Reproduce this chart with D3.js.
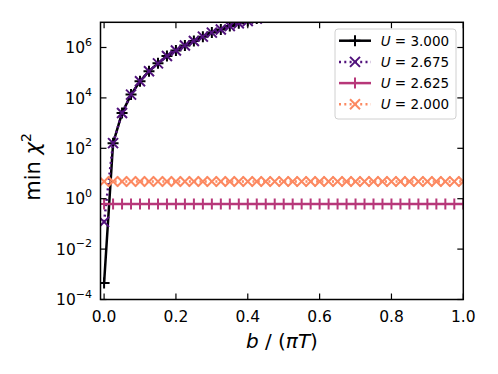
<!DOCTYPE html>
<html><head><meta charset="utf-8">
<script src="https://cdn.jsdelivr.net/npm/d3@7"></script>
<style>body{margin:0;background:#fff}svg{display:block;font-family:"DejaVu Sans",sans-serif}</style>
</head><body><svg id="c" width="498" height="374"></svg>
<script>
const xs = [0,0.025,0.05,0.075,0.1,0.125,0.15,0.175,0.2,0.225,0.25,0.275,0.3,0.325,0.35,0.375,0.4,0.425,0.45,0.475,0.5,0.525,0.55,0.575,0.6,0.625,0.65,0.675,0.7,0.725,0.75,0.775,0.8,0.825,0.85,0.875,0.9,0.925,0.95,0.975,1.0];
const u3000 = [4.5e-4,1.6e2,2.5e3,1.35e4,4.6e4,1.15e5,2.35e5,4.6e5,7.6e5,1.2e6,1.8e6,2.7e6,3.9e6,5.2e6,7.1e6,9.1e6,1.12e7,1.4e7,1.8e7];
const u2675 = [0.12,1.6e2,2.5e3,1.35e4,4.6e4,1.15e5,2.35e5,4.6e5,7.6e5,1.2e6,1.8e6,2.7e6,3.9e6,5.2e6,7.1e6,9.1e6,1.12e7,1.4e7,1.8e7];
const u2625 = [0.61,0.61,0.61,0.61,0.61,0.61,0.61,0.61,0.61,0.61,0.61,0.61,0.61,0.61,0.61,0.61,0.61,0.61,0.61,0.61,0.61,0.61,0.61,0.61,0.61,0.61,0.61,0.61,0.61,0.61,0.61,0.61,0.61,0.61,0.61,0.61,0.61,0.61,0.61,0.61,0.61];
const u2000 = [4.8,4.8,4.8,4.8,4.8,4.8,4.8,4.8,4.8,4.8,4.8,4.8,4.8,4.8,4.8,4.8,4.8,4.8,4.8,4.8,4.8,4.8,4.8,4.8,4.8,4.8,4.8,4.8,4.8,4.8,4.8,4.8,4.8,4.8,4.8,4.8,4.8,4.8,4.8,4.8,4.8];
const seriesLabels = ["3.000","2.675","2.625","2.000"];
const xTicks = [0,0.2,0.4,0.6,0.8,1.0];
const yTickExps = [-4,-2,0,2,4,6];

const series = [
  {label:seriesLabels[0], vals:u3000, color:"#000004", dash:null, marker:"plus"},
  {label:seriesLabels[1], vals:u2675, color:"#51127c", dash:"2,3.3", marker:"x"},
  {label:seriesLabels[2], vals:u2625, color:"#b73779", dash:null, marker:"plus"},
  {label:seriesLabels[3], vals:u2000, color:"#fc8961", dash:"2,3.3", marker:"x"}
];

const L=100.5, R=463.3, T=22.3, B=299.5;
const svg = d3.select("#c");
const x = d3.scaleLinear().domain([-0.01,1.0]).range([L,R]);
const y = d3.scaleLog().domain([1e-4,1e7]).range([B,T]);

svg.append("defs").append("clipPath").attr("id","clip")
  .append("rect").attr("x",L).attr("y",T).attr("width",R-L).attr("height",B-T);

const plot = svg.append("g").attr("clip-path","url(#clip)");

function markerPath(type, s){
  const h=s/2;
  if(type==="plus") return `M${-h},0L${h},0M0,${-h}L0,${h}`;
  return `M${-h},${-h}L${h},${h}M${-h},${h}L${h},${-h}`;
}

series.forEach(s=>{
  const pts = s.vals.map((v,i)=>[xs[i],v]);
  const line = d3.line().x(d=>x(d[0])).y(d=>y(d[1]));
  const p = plot.append("path").attr("d",line(pts)).attr("fill","none")
    .attr("stroke",s.color).attr("stroke-width",2.5);
  if(s.dash) p.attr("stroke-dasharray",s.dash);
  plot.append("g").selectAll("path").data(pts).join("path")
    .attr("transform",d=>`translate(${x(d[0])},${y(d[1])})`)
    .attr("d",markerPath(s.marker, s.marker==="plus"?11:10))
    .attr("stroke",s.color).attr("stroke-width",2).attr("fill","none");
});

// frame
svg.append("rect").attr("x",L).attr("y",T).attr("width",R-L).attr("height",B-T)
  .attr("fill","none").attr("stroke","#000").attr("stroke-width",1.5);

const tl=6, fs=15.5;
xTicks.forEach(t=>{
  const px=x(t);
  svg.append("line").attr("x1",px).attr("x2",px).attr("y1",B).attr("y2",B-tl).attr("stroke","#000").attr("stroke-width",1.2);
  svg.append("line").attr("x1",px).attr("x2",px).attr("y1",T).attr("y2",T+tl).attr("stroke","#000").attr("stroke-width",1.2);
  svg.append("text").attr("x",px).attr("y",321.5).attr("text-anchor","middle")
    .attr("font-size",fs).text(d3.format(".1f")(t));
});
yTickExps.forEach(e=>{
  const py=y(Math.pow(10,e));
  svg.append("line").attr("x1",L).attr("x2",L+tl).attr("y1",py).attr("y2",py).attr("stroke","#000").attr("stroke-width",1.2);
  svg.append("line").attr("x1",R).attr("x2",R-tl).attr("y1",py).attr("y2",py).attr("stroke","#000").attr("stroke-width",1.2);
  const t = svg.append("text").attr("x",92).attr("y",py+5.6).attr("text-anchor","end").attr("font-size",fs);
  t.append("tspan").text("10");
  t.append("tspan").attr("dy",-7.5).attr("font-size",11).text(e<0?"\u2212"+(-e):String(e));
});

// axis labels
const xl = svg.append("text").attr("x",(L+R)/2).attr("y",348).attr("text-anchor","middle").attr("font-size",20);
xl.append("tspan").attr("font-style","italic").text("b");
xl.append("tspan").text(" / (");
xl.append("tspan").attr("font-style","italic").text("πT");
xl.append("tspan").text(")");

const yl = svg.append("text").attr("transform",`translate(40,167) rotate(-90)`)
  .attr("text-anchor","middle").attr("font-size",21);
yl.append("tspan").text("min ");
yl.append("tspan").attr("font-style","italic").text("χ");
yl.append("tspan").attr("dy",-9).attr("font-size",14).text("2");

// legend
const lg = svg.append("g");
lg.append("rect").attr("x",335).attr("y",29).attr("width",121).attr("height",90).attr("rx",3)
  .attr("fill","#fff").attr("fill-opacity",0.8).attr("stroke","#d0d0d0").attr("stroke-width",1);
series.forEach((s,i)=>{
  const cy = 40.7 + i*21.2;
  const l = lg.append("line").attr("x1",339).attr("x2",371).attr("y1",cy).attr("y2",cy)
    .attr("stroke",s.color).attr("stroke-width",2.5);
  if(s.dash) l.attr("stroke-dasharray",s.dash);
  lg.append("path").attr("transform",`translate(355,${cy})`)
    .attr("d",markerPath(s.marker, s.marker==="plus"?11:10)).attr("stroke",s.color).attr("stroke-width",2).attr("fill","none");
  const t = lg.append("text").attr("x",380.7).attr("y",cy+4.9).attr("font-size",13.5);
  t.append("tspan").attr("font-style","italic").text("U");
  t.append("tspan").text(" = "+s.label);
});
</script></body></html>
